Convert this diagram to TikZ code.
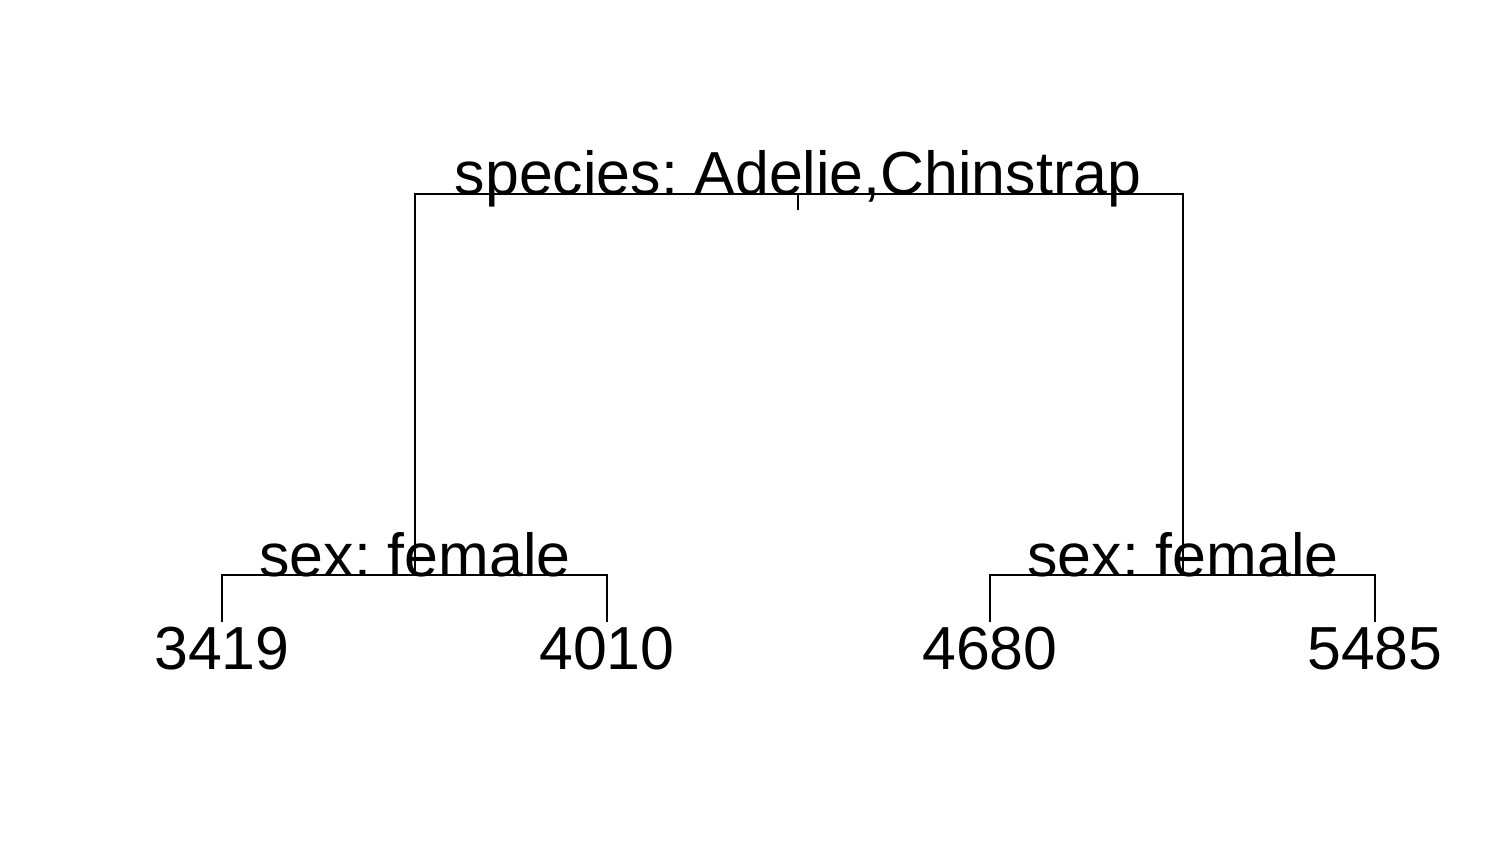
\documentclass[tikz,border=0pt]{standalone}
\usepackage{fontspec}
\setmainfont{Liberation Sans}
\usepackage{tikz}
\frenchspacing

\begin{document}
\begin{tikzpicture}[line width=0.6pt,-]
                \tikzstyle{label}=[anchor=base,inner sep=0pt,font=\fontsize{17.3}{20}\selectfont]
                \useasboundingbox (0,0) rectangle (15.12,8.64);
                % split points
                \coordinate (V-1) at (7.98,6.70);
                \coordinate (V-2) at (4.15,2.89);
                \coordinate (V-3) at (11.83,2.89);
                \foreach \num/\x/\val in {1/2.22/3419, 2/6.07/4010, 3/9.90/4680, 4/13.75/5485}
                {
                        \coordinate (T-\num) at (\x,2.42);
                        \node[label] (L-\num) at (\x,1.94) {\val};
                }

                    \draw (V-2) |- (V-1) -| (V-3);
                    \draw (V-1) -- ++(0,-0.16);
                    \draw (T-1) |- (V-2) -| (T-2);
                    \draw (T-3) |- (V-3) -| (T-4);

                    \node[label] (N-1) at (7.98,6.69) {species: Adelie,Chinstrap};
                    \node[label] (N-2) at (4.15,2.87) {sex: female};
                    \node[label] (N-3) at (11.83,2.87) {sex: female};
            \end{tikzpicture}
\end{document}
